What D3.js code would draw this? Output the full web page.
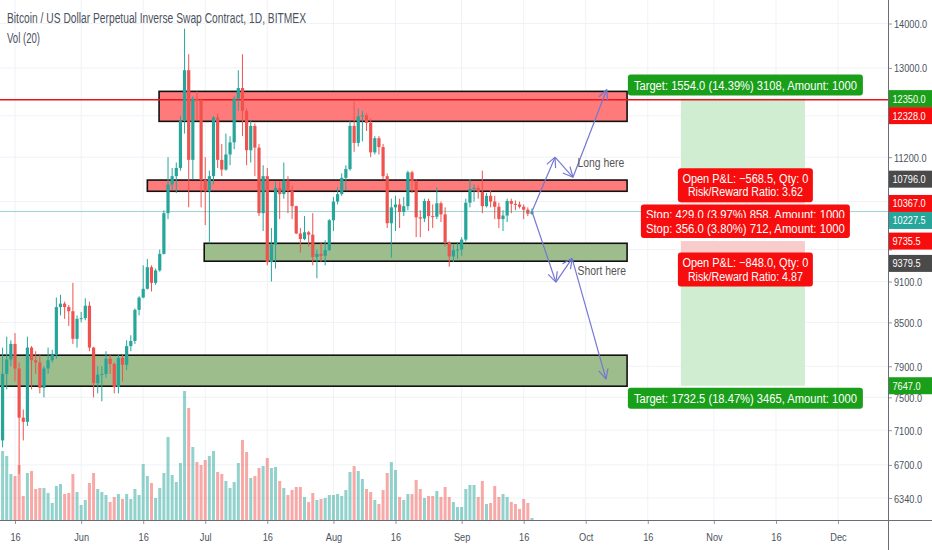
<!DOCTYPE html>
<html>
<head>
<meta charset="utf-8">
<script src="https://cdn.jsdelivr.net/npm/d3@7"></script>
<style>
  body { margin: 0; background: #fff; }
  svg { display: block; font-family: "Liberation Sans", Arial, sans-serif; }
</style>
</head>
<body>
<div id="chart"></div>
<script>
var svgWidth = 932;
var svgHeight = 550;
var plotW = 888;
var plotH = 520;

// daily candles, 2019-05-10 .. 2019-09-18
var firstDay = "2019-05-10";
var lastDay = "2019-09-18";

var opens = [6150,6350,7250,6980,7800,7990,8200,7870,7250,7200,8150,7980,7950,7620,7870,7980,8050,8720,8770,8720,8660,8270,
  8550,8560,8740,8150,7680,7790,7800,8000,7930,7630,8010,7920,8170,8240,8680,8860,8990,9320,9080,9270,9530,10200,10700,10850,11000,11900,12950,11150,12350,12300,
  10780,10580,10850,11970,11150,10970,11250,11480,12350,12570,12100,11330,11800,11380,10200,10850,9400,9680,10640,10530,10770,10590,10320,9860,9770,9880,9840,9480,9530,9500,9590,
  10080,10400,10530,10820,10980,11800,11470,11990,12010,11860,11290,11560,11390,10850,10030,10300,10350,10220,10320,10920,10760,10130,10110,10410,10150,10140,10370,10180,9720,9490,9590,
  9600,9760,10380,10620,10640,10570,10320,10500,10400,10310,10100,10160,10410,10360,10350,10310,10260,10190];
var highs = [6450,7450,7550,8150,8300,8250,8350,7950,7350,8300,8170,8100,8050,7900,8150,8120,8860,8900,8800,8750,9080,8600,
  8650,8850,8800,8160,7900,7900,8100,8050,7950,8050,8050,8250,8320,8700,8880,9350,9450,9350,9300,9600,10250,11200,11000,11100,12000,13880,13300,12400,12500,12350,
  11200,10950,12000,12050,11450,11650,11600,12400,12950,13300,12150,11900,11850,11450,11050,11000,9950,10750,10750,11100,10850,10680,10330,9950,10150,9900,10200,9600,9720,9750,10100,
  10480,10650,10900,11050,11900,12300,12150,12100,12050,11950,11600,11600,11450,10900,10450,10500,10450,10480,10950,10950,10790,10250,10450,10450,10350,10650,10400,10300,9730,9680,9700,
  9800,10450,10800,10700,10680,10950,10550,10600,10500,10380,10250,10450,10450,10420,10400,10350,10300,10280];
var lows = [6100,6350,6800,6900,7600,7900,7700,6600,6980,7150,7600,7800,7550,7500,7800,7950,8000,8600,8550,8450,8200,8150,
  8500,8530,8100,7500,7550,7450,7750,7800,7550,7550,7700,7850,8100,8200,8600,8850,8980,8950,9050,9250,9520,10100,10600,10550,10950,11650,10300,10800,11900,10300,
  10000,9700,10700,11000,10850,10950,11050,11350,12100,11600,11050,11100,10850,10150,9900,9350,9100,9300,10100,10450,10200,10100,9850,9550,9750,9650,9350,9150,9400,9350,9580,
  9900,10350,10500,10600,10950,11300,11400,11500,11700,11200,11250,11250,10800,9950,9470,9900,9950,10150,10250,10550,9800,9800,10050,9900,9950,10100,10050,9650,9330,9400,9450,
  9500,9730,10300,10400,10450,10200,10300,10300,10100,9950,9900,10050,10200,10250,10280,10100,10150,10170];
var closes = [6350,7250,6980,7800,7990,8200,7870,7250,7200,8150,7980,7950,7620,7870,7980,8050,8720,8770,8720,8660,8270,8550,
  8560,8740,8150,7680,7790,7800,8000,7930,7630,8010,7920,8170,8240,8680,8860,8990,9320,9080,9270,9530,10200,10700,10850,11000,11900,12950,11150,12350,12300,10780,
  10580,10850,11970,11150,10970,11250,11480,12350,12570,12100,11330,11800,11380,10200,10850,9400,9680,10640,10530,10770,10590,10320,9860,9770,9880,9840,9480,9530,9500,9590,10080,
  10400,10530,10820,10980,11800,11470,11990,12010,11860,11290,11560,11390,10850,10030,10300,10350,10220,10320,10920,10760,10130,10110,10410,10150,10140,10370,10180,9720,9490,9590,9600,
  9760,10380,10620,10640,10570,10320,10500,10400,10310,10100,10160,10410,10360,10350,10310,10260,10190,10227.5];
var volumes = [1100,1800,1500,1380,1280,920,880,1100,480,940,980,620,640,640,540,340,680,720,520,540,920,560,
  300,400,740,940,620,560,500,360,460,520,420,520,420,620,500,1120,880,740,440,640,940,1660,900,760,1140,2580,2240,1460,1160,1100,
  1200,1280,1380,960,920,780,640,760,1140,1600,1360,840,880,1040,1080,1240,1040,1060,780,640,500,600,660,660,460,360,540,400,420,440,500,
  500,520,480,600,960,1080,980,820,620,560,400,320,600,940,1160,1000,460,400,520,520,800,620,440,480,480,580,460,660,460,360,260,
  260,620,700,700,460,780,320,340,680,460,520,460,360,320,220,420,340,40];

var dateTicks = ["2019-05-16","2019-06-01","2019-06-16","2019-07-01","2019-07-16","2019-08-01","2019-08-16",
  "2019-09-01","2019-09-16","2019-10-01","2019-10-16","2019-11-01","2019-11-16","2019-12-01"];
var dateLabels = ["16","Jun","16","Jul","16","Aug","16","Sep","16","Oct","16","Nov","16","Dec"];
var priceTicks = [14000,13000,12000,11200,10400,9600,9100,8500,7900,7500,7100,6700,6340];

// drawn zones: [from, to, top price, bottom price, kind]
var zones = [
  ["2019-06-19T20:00","2019-10-11",12500,11890,"red"],
  ["2019-06-17","2019-10-11",10780,10580,"red"],
  ["2019-06-30T18:00","2019-10-11",9700,9414,"green"],
  ["2019-05-01","2019-10-11",8047,7641,"green"]
];
var hLinePrice = 12328;
var lastPrice = 10227.5;

// position tools
var posFrom = "2019-10-24";
var posTo = "2019-11-23";
var longPos = {entry: 10796, target: 12350, stop: 10367};
var shortPos = {entry: 9379.5, target: 7647, stop: 9735.5};
var longTargetText = "Target: 1554.0 (14.39%) 3108, Amount: 1000";
var longPnl = ["Open P&L: \u2212568.5, Qty: 0", "Risk/Reward Ratio: 3.62"];
var longStopText = "Stop: 429.0 (3.97%) 858, Amount: 1000";
var shortStopText = "Stop: 356.0 (3.80%) 712, Amount: 1000";
var shortPnl = ["Open P&L: \u2212848.0, Qty: 0", "Risk/Reward Ratio: 4.87"];
var shortTargetText = "Target: 1732.5 (18.47%) 3465, Amount: 1000";

// arrows
var longPath = [["2019-09-18",10227.5],["2019-09-23T14:00",11200],["2019-09-27T22:00",10830],["2019-10-06T02:00",12540]];
var shortPath = [["2019-09-18",10227.5],["2019-09-23T19:00",9090],["2019-09-27T17:00",9460],["2019-10-05T22:00",7731]];
var notes = [["2019-09-29",11018,"Long here"],["2019-09-29",9201,"Short here"]];

// axis price labels: [price, kind]
var axisLabels = [[12350,"green"],[12328,"red"],[10796,"gray"],[10367,"red"],[10227.5,"teal"],[9735.5,"red"],[9379.5,"gray"],[7647,"green"]];

var UP = "#26a69a", DOWN = "#ef5350";
var LBL = {green: "#1a9f1a", red: "#f70d0d", gray: "#4a4a4a", teal: "#26a69a"};
var TXT = "#4c525e";

var days = d3.utcDay.range(new Date(firstDay), d3.utcDay.offset(new Date(lastDay), 1));
var candles = days.map(function(d, i) {
  return {date: d, o: opens[i], h: highs[i], l: lows[i], c: closes[i], v: volumes[i]};
});

var x = d3.scaleUtc()
  .domain([new Date("2019-05-16"), new Date("2019-12-01")])
  .range([15, 838]);
var y = d3.scaleLog()
  .domain([14000, 6340])
  .range([23.5, 498]);
var yVol = d3.scaleLinear()
  .domain([0, 2600])
  .range([plotH, 390]);

var svg = d3.select("#chart")
  .append("svg")
  .attr("width", svgWidth)
  .attr("height", svgHeight);

svg.append("defs").append("clipPath").attr("id", "plot")
  .append("rect").attr("width", plotW).attr("height", plotH);

var plot = svg.append("g").attr("clip-path", "url(#plot)");

// grid
plot.selectAll(".vgrid").data(dateTicks).enter().append("line")
  .attr("x1", d => x(new Date(d))).attr("x2", d => x(new Date(d)))
  .attr("y1", 0).attr("y2", plotH)
  .attr("stroke", "#f0f2f7");
plot.selectAll(".hgrid").data(priceTicks).enter().append("line")
  .attr("x1", 0).attr("x2", plotW)
  .attr("y1", d => y(d)).attr("y2", d => y(d))
  .attr("stroke", "#f0f2f7");

// volume
plot.selectAll(".vol").data(candles).enter().append("rect")
  .attr("x", d => x(d.date) - 1.5)
  .attr("width", 3)
  .attr("y", d => yVol(d.v))
  .attr("height", d => plotH - yVol(d.v))
  .attr("fill", d => d.c >= d.o ? UP : DOWN)
  .attr("opacity", 0.5);

// zones
plot.selectAll(".zone").data(zones).enter().append("rect")
  .attr("x", d => x(new Date(d[0])))
  .attr("width", d => x(new Date(d[1])) - x(new Date(d[0])))
  .attr("y", d => y(d[2]))
  .attr("height", d => y(d[3]) - y(d[2]))
  .attr("fill", d => d[4] == "red" ? "#ff7b7b" : "#9dbd8c")
  .attr("stroke", "#111")
  .attr("stroke-width", 1.6);

// position areas
var px0 = x(new Date(posFrom)), px1 = x(new Date(posTo));
function area(p1, p2, col) {
  plot.append("rect")
    .attr("x", px0).attr("width", px1 - px0)
    .attr("y", Math.min(y(p1), y(p2)))
    .attr("height", Math.abs(y(p1) - y(p2)))
    .attr("fill", col);
}
area(longPos.target, longPos.entry, "#d0ecd1");
area(longPos.entry, longPos.stop, "#f9cccc");
area(shortPos.stop, shortPos.entry, "#f9cccc");
area(shortPos.entry, shortPos.target, "#d0ecd1");

// horizontal line
plot.append("line")
  .attr("x1", 0).attr("x2", plotW)
  .attr("y1", y(hLinePrice)).attr("y2", y(hLinePrice))
  .attr("stroke", "#e8141a").attr("stroke-width", 1.5);

// candles
var cg = plot.selectAll(".candle").data(candles).enter().append("g");
cg.append("line")
  .attr("x1", d => x(d.date)).attr("x2", d => x(d.date))
  .attr("y1", d => y(d.h)).attr("y2", d => y(d.l))
  .attr("stroke", d => d.c >= d.o ? UP : DOWN);
cg.append("rect")
  .attr("x", d => x(d.date) - 1.6)
  .attr("width", 3.2)
  .attr("y", d => y(Math.max(d.o, d.c)))
  .attr("height", d => Math.max(1, Math.abs(y(d.o) - y(d.c))))
  .attr("fill", d => d.c >= d.o ? UP : DOWN);

// last price line
plot.append("line")
  .attr("x1", 0).attr("x2", plotW)
  .attr("y1", y(lastPrice)).attr("y2", y(lastPrice))
  .attr("stroke", UP).attr("opacity", 0.45);

// arrows
function drawArrows(path) {
  var pts = path.map(p => [x(new Date(p[0])), y(p[1])]);
  for (var i = 1; i < pts.length; i++) {
    var a = pts[i - 1], b = pts[i];
    plot.append("line")
      .attr("x1", a[0]).attr("y1", a[1]).attr("x2", b[0]).attr("y2", b[1])
      .attr("stroke", "#7478d2").attr("stroke-width", 1.2);
    var ang = Math.atan2(b[1] - a[1], b[0] - a[0]);
    [-0.45, 0.45].forEach(function(s) {
      plot.append("line")
        .attr("x1", b[0]).attr("y1", b[1])
        .attr("x2", b[0] - 11 * Math.cos(ang + s))
        .attr("y2", b[1] - 11 * Math.sin(ang + s))
        .attr("stroke", "#7478d2").attr("stroke-width", 1.2);
    });
  }
}
drawArrows(longPath);
drawArrows(shortPath);

// condensed text helper
function ctext(parent, tx, ty, s, size, fill, anchor) {
  return parent.append("g")
    .attr("transform", `translate(${tx},${ty}) scale(0.8,1)`)
    .append("text")
    .attr("text-anchor", anchor || "start")
    .attr("font-size", size)
    .attr("fill", fill)
    .text(s);
}

notes.forEach(function(n) {
  ctext(plot, x(new Date(n[0])), y(n[1]), n[2], 13, "#555");
});

// position labels
var cx = (px0 + px1) / 2 + 2.5;
function box(top, w, h, col, lines, widths, base) {
  plot.append("rect")
    .attr("x", cx - w / 2).attr("y", top)
    .attr("width", w).attr("height", h)
    .attr("rx", 3).attr("fill", col);
  lines.forEach(function(s, i) {
    plot.append("text")
      .attr("x", cx).attr("y", top + (base || 15) + i * 13.3)
      .attr("text-anchor", "middle")
      .attr("font-size", 12.5)
      .attr("fill", "#fff")
      .attr("textLength", widths[i])
      .attr("lengthAdjust", "spacingAndGlyphs")
      .text(s);
  });
}
box(y(longPos.target) - 24, 235, 21, LBL.green, [longTargetText], [223]);
box(y(longPos.entry) - 11, 135, 34, LBL.red, longPnl, [126, 115]);
box(y(longPos.stop) + 1, 209, 19, LBL.red, [longStopText], [199], 15);
box(y(shortPos.stop) - 23, 209, 20, LBL.red, [shortStopText], [199], 14.5);
box(y(shortPos.entry) - 11, 135, 34, LBL.red, shortPnl, [126, 115]);
box(y(shortPos.target) + 2, 235, 21, LBL.green, [shortTargetText], [223]);

// title
svg.append("text").attr("x", 7).attr("y", 23)
  .attr("font-size", 14).attr("fill", TXT)
  .attr("textLength", 299).attr("lengthAdjust", "spacingAndGlyphs")
  .text("Bitcoin / US Dollar Perpetual Inverse Swap Contract, 1D, BITMEX");
svg.append("text").attr("x", 7).attr("y", 43)
  .attr("font-size", 14).attr("fill", TXT)
  .attr("textLength", 33).attr("lengthAdjust", "spacingAndGlyphs")
  .text("Vol (20)");

// price labels on the axis, pushed apart so they don't overlap
var placed = [];
axisLabels.slice().sort((a, b) => y(a[0]) - y(b[0])).forEach(function(l) {
  var cy = y(l[0]);
  if (placed.length && cy < placed[placed.length - 1] + 17) cy = placed[placed.length - 1] + 17;
  placed.push(cy);
});
// tick labels hidden under a coloured label are not drawn
var freeTicks = priceTicks.filter(t => placed.every(p => Math.abs(p - y(t)) > 11));

// axes
var rightAxis = d3.axisRight(y)
  .tickValues(priceTicks)
  .tickSize(4)
  .tickFormat(d => freeTicks.indexOf(d) >= 0 ? d3.format(".1f")(d) : "");
var yAxisG = svg.append("g")
  .attr("transform", `translate(${plotW},0)`)
  .call(rightAxis);
yAxisG.select(".domain").remove();
yAxisG.selectAll("line").attr("stroke", "#9598a1");
yAxisG.selectAll("text")
  .attr("x", 7.5).attr("dy", "0.35em")
  .attr("transform", "scale(0.8,1)")
  .attr("font-size", 11.5).attr("font-family", null).attr("fill", TXT);

var bottomAxis = d3.axisBottom(x)
  .tickValues(dateTicks.map(d => new Date(d)))
  .tickSize(4)
  .tickFormat((d, i) => dateLabels[i]);
var xAxisG = svg.append("g")
  .attr("transform", `translate(0,${plotH})`)
  .call(bottomAxis);
xAxisG.select(".domain").remove();
xAxisG.selectAll("line").attr("stroke", "#9598a1");
xAxisG.selectAll("text")
  .attr("y", 12.5)
  .attr("x", 0)
  .attr("transform", "scale(0.8,1)")
  .attr("font-size", 11.5).attr("font-family", null).attr("fill", TXT);

svg.append("line").attr("x1", 0).attr("x2", svgWidth)
  .attr("y1", plotH + 0.5).attr("y2", plotH + 0.5)
  .attr("stroke", "#6a6d78");
svg.append("line").attr("x1", plotW + 0.5).attr("x2", plotW + 0.5)
  .attr("y1", 0).attr("y2", svgHeight)
  .attr("stroke", "#6a6d78");

axisLabels.slice().sort((a, b) => y(a[0]) - y(b[0])).forEach(function(l, i) {
  var cy = placed[i];
  svg.append("rect")
    .attr("x", plotW + 1).attr("y", cy - 8.5)
    .attr("width", svgWidth - plotW - 1).attr("height", 17)
    .attr("fill", LBL[l[1]]);
  ctext(svg, plotW + 4.5, cy + 4, d3.format(".1f")(l[0]), 11.5, "#fff");
});
</script>
</body>
</html>
